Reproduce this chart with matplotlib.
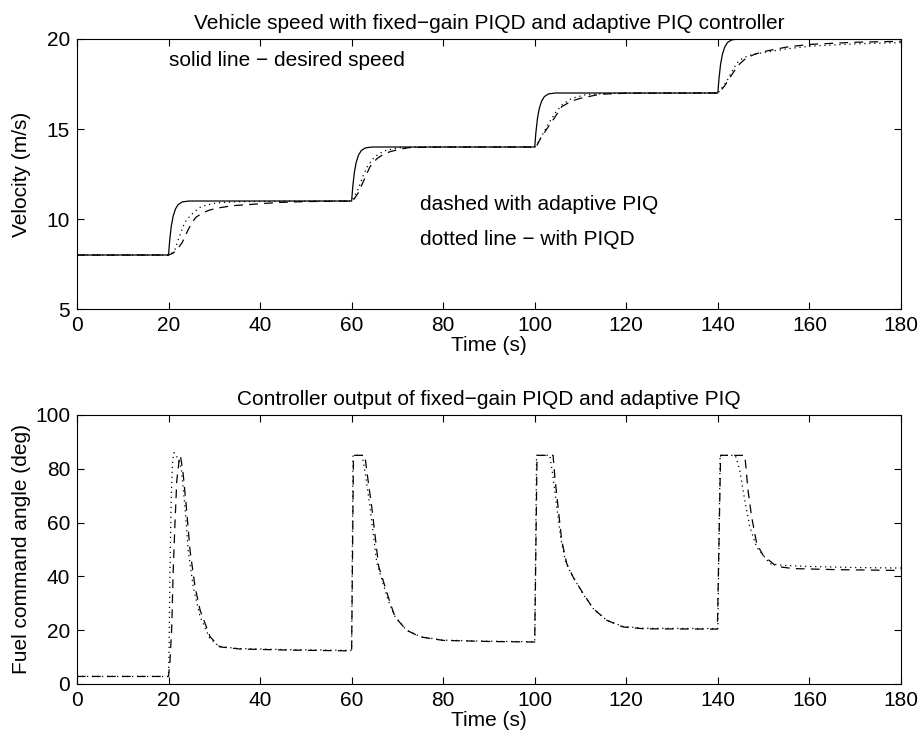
import matplotlib
matplotlib.use("Agg")
import matplotlib.pyplot as plt

plt.rcParams['font.family'] = ['Liberation Sans', 'DejaVu Sans']
plt.rcParams['font.size'] = 15

# ---- top panel: vehicle speed (m/s) ----
t_desired = [0, 20, 20.25, 20.6, 21.0, 21.5, 22.1, 23.0, 24.5,
             60, 60.25, 60.6, 61.0, 61.5, 62.1, 63.0, 64.5,
             100, 100.25, 100.6, 101.0, 101.5, 102.1, 103.0, 104.5,
             140, 140.25, 140.6, 141.0, 141.5, 142.1, 143.0, 144.5, 180]
v_desired = [8, 8, 8.8, 9.6, 10.15, 10.55, 10.8, 10.95, 11,
             11, 11.8, 12.6, 13.15, 13.55, 13.8, 13.95, 14,
             14, 14.8, 15.6, 16.15, 16.55, 16.8, 16.95, 17,
             17, 17.8, 18.6, 19.15, 19.55, 19.8, 19.95, 20, 20]

# adaptive PIQ (dashed)
t_piq = [0, 20, 21, 22, 23, 24, 25, 26, 27.5, 29, 31, 34, 39, 44, 50, 60,
         60.5, 61.4, 62.5, 64, 65.5, 67, 68.4, 70.5, 72.7, 80, 100,
         100.5, 101.1, 102.5, 104, 105.9, 108, 109.9, 114.2, 120, 140,
         140.5, 141.5, 143, 144.5, 146, 148, 150, 155, 160, 170, 180]
v_piq = [8, 8, 8.1, 8.35, 8.7, 9.25, 9.76, 10.1, 10.35, 10.5, 10.62, 10.74, 10.83, 10.92, 10.97, 11,
         11.1, 11.43, 12.05, 12.9, 13.35, 13.6, 13.74, 13.88, 13.97, 14.0, 14.0,
         14.1, 14.4, 14.95, 15.5, 16.24, 16.55, 16.7, 16.93, 16.99, 17,
         17.1, 17.4, 18.0, 18.55, 18.9, 19.15, 19.3, 19.55, 19.7, 19.82, 19.87]

# fixed-gain PIQD (dotted)
t_piqd = [0, 20, 20.7, 21.4, 22.1, 23.2, 23.9, 25.4, 26.9, 28.3, 30.5, 35, 45, 60,
          60.5, 61.5, 62.5, 63.5, 65, 67, 70, 75, 100,
          100.5, 101.5, 103, 104.5, 106, 108, 111, 116, 140,
          140.5, 141.9, 143, 144.1, 145.5, 147, 150, 155, 160, 170, 180]
v_piqd = [8, 8, 8.1, 8.3, 8.83, 9.6, 9.94, 10.35, 10.65, 10.78, 10.9, 10.96, 10.99, 11,
          11.2, 11.7, 12.4, 12.95, 13.45, 13.78, 13.95, 14.0, 14,
          14.15, 14.6, 15.3, 15.9, 16.35, 16.7, 16.9, 16.98, 17,
          17.15, 17.63, 18.15, 18.65, 18.95, 19.1, 19.25, 19.45, 19.6, 19.73, 19.8]

# ---- bottom panel: fuel command angle (deg) ----
t_u_piq = [0, 20, 20.3, 20.7, 21.0, 21.4, 21.8, 22.3, 22.6, 23.2, 23.9, 24.7, 25.8, 26.9,
           29.1, 31.2, 35.6, 46.5, 60,
           60.4, 62.9, 63.3, 64.4, 65.9, 68.4, 69.5, 72, 75, 80, 90, 100,
           100.5, 104, 104.4, 105.1, 105.9, 107, 108.4, 110.6, 112.8, 115.7, 119.3, 124, 139.9,
           140.6, 145.9, 146.6, 147.4, 148.5, 149.9, 152.8, 156.5, 166, 180]
u_piq = [2.8, 2.8, 8, 21, 41, 59.5, 75.5, 83, 85, 78, 65.7, 49.6, 36, 27.4,
         17.5, 13.8, 13.0, 12.6, 12.3,
         85, 85, 79.3, 65.7, 43.8, 30.2, 24.9, 20, 17.5, 16.2, 15.8, 15.6,
         85, 85, 76.8, 65.7, 53.3, 44.7, 39.7, 33.6, 28, 23.7, 21.2, 20.5, 20.4,
         85, 85, 71.9, 62, 52.1, 47.8, 43.7, 42.9, 42.5, 42.2]

t_u_piqd = [0, 20, 20.1, 20.3, 20.6, 20.9, 21.2, 22.0, 22.8, 23.6, 24.3, 25.4, 26.9,
            29, 31, 35, 45, 60,
            60.3, 62.3, 63, 64, 65.5, 68, 69.5, 72, 75, 80, 90, 100,
            100.4, 103.3, 104, 104.8, 105.7, 106.8, 108.3, 110.5, 112.8, 115.7, 119.3, 124, 140,
            140.5, 143.8, 144.1, 144.8, 145.9, 147, 148.5, 151.4, 154.3, 160, 170, 180]
u_piqd = [2.8, 2.8, 10, 40, 70, 83, 86, 84, 80, 65.7, 49.6, 36, 25,
          17, 14, 13.2, 12.8, 12.5,
          85, 85, 78, 66, 45, 31, 25, 20, 17.6, 16.3, 15.9, 15.7,
          85, 85, 77, 66, 54, 45, 40, 33.6, 28, 23.7, 21.4, 20.7, 20.6,
          85, 85, 83.6, 79.3, 68.1, 58.3, 50.8, 44.7, 44.1, 43.7, 43.3, 43.1]

x_ticks = list(range(0, 181, 20))
speed_ticks = [5, 10, 15, 20]
fuel_ticks = [0, 20, 40, 60, 80, 100]

fig = plt.figure(figsize=(9.23, 7.40), dpi=100)
ax1 = fig.add_axes([0.0834, 0.5824, 0.8927, 0.3649])
ax2 = fig.add_axes([0.0834, 0.0757, 0.8927, 0.3635])

lw = 0.9
ax1.plot(t_desired, v_desired, color='black', lw=lw, linestyle='-')
ax1.plot(t_piq, v_piq, color='black', lw=lw, linestyle=(0, (7, 5)))
ax1.plot(t_piqd, v_piqd, color='black', lw=lw, linestyle=(0, (1, 3)))

ax2.plot(t_u_piq, u_piq, color='black', lw=lw, linestyle=(0, (7, 5)))
ax2.plot(t_u_piqd, u_piqd, color='black', lw=lw, linestyle=(0, (1, 3)))

ax1.text(20, 18.5, 'solid line \u2212 desired speed')
ax1.text(75, 10.5, 'dashed with adaptive PIQ')
ax1.text(75, 8.55, 'dotted line \u2212 with PIQD')

for ax in (ax1, ax2):
    ax.set_xlim(0, 180)
    ax.set_xticks(x_ticks)
    ax.tick_params(direction='in', length=5, width=0.8, pad=5,
                   top=True, right=True)
    for sp in ax.spines.values():
        sp.set_linewidth(0.8)
    ax.set_xlabel('Time (s)', labelpad=1)
    ax.yaxis.set_label_coords(-0.056, 0.5)

ax1.set_ylim(5, 20)
ax1.set_yticks(speed_ticks)
ax1.set_ylabel('Velocity (m/s)')
ax1.set_title('Vehicle speed with fixed\u2212gain PIQD and adaptive PIQ controller',
              fontsize=15, pad=7)

ax2.set_ylim(0, 100)
ax2.set_yticks(fuel_ticks)
ax2.set_ylabel('Fuel command angle (deg)')
ax2.set_title('Controller output of fixed\u2212gain PIQD and adaptive PIQ',
              fontsize=15, pad=7)

fig.savefig('out.png', dpi=100)
